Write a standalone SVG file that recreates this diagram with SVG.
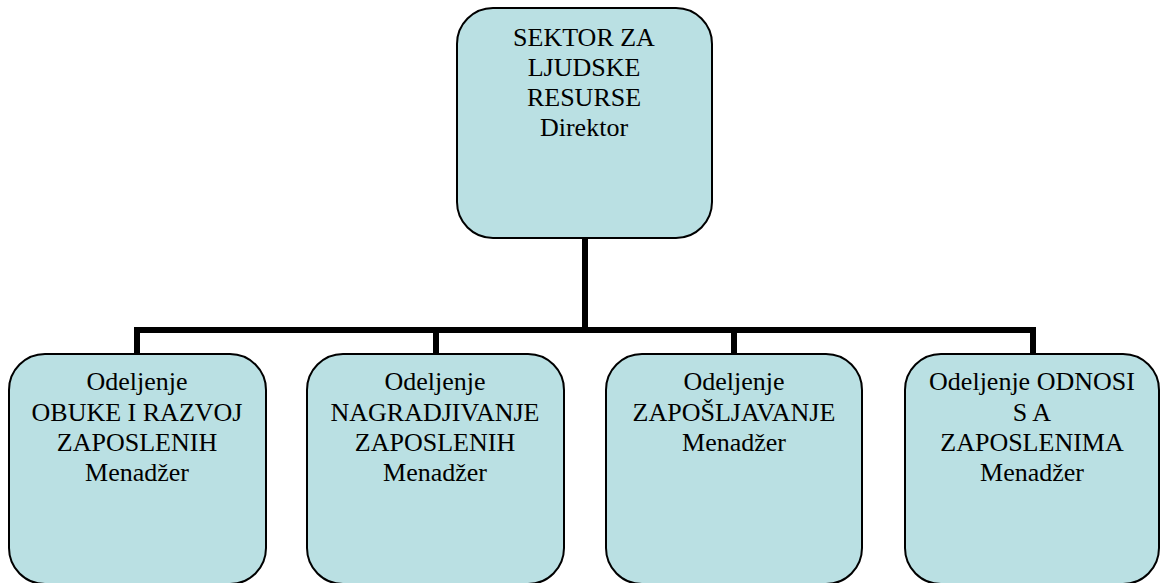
<svg xmlns="http://www.w3.org/2000/svg" width="1160" height="583" viewBox="0 0 1160 583">
<style>
.box{fill:#BAE0E3;stroke:#000;stroke-width:2}
.c{stroke:#000;stroke-width:6;fill:none}
</style>
<rect width="1160" height="583" fill="#fff"/>
<g id="connectors">
<line class="c" x1="585" y1="238" x2="585" y2="330"/>
<line class="c" x1="134" y1="330" x2="1036" y2="330"/>
<line class="c" x1="137" y1="330" x2="137" y2="353"/>
<line class="c" x1="436" y1="330" x2="436" y2="353"/>
<line class="c" x1="734" y1="330" x2="734" y2="353"/>
<line class="c" x1="1033" y1="330" x2="1033" y2="353"/>
</g>
<g id="n0">
<rect class="box" x="457" y="8" width="255" height="230" rx="36"/>
<text x="584" y="46" style="font-family:'Liberation Serif','Times New Roman',serif;font-size:26px;text-anchor:middle">SEKTOR ZA</text>
<text x="584" y="76" style="font-family:'Liberation Serif','Times New Roman',serif;font-size:26px;text-anchor:middle">LJUDSKE</text>
<text x="584" y="106" style="font-family:'Liberation Serif','Times New Roman',serif;font-size:26px;text-anchor:middle">RESURSE</text>
<text x="584" y="136" style="font-family:'Liberation Serif','Times New Roman',serif;font-size:26px;text-anchor:middle">Direktor</text>
</g>
<g id="n1">
<rect class="box" x="9" y="354" width="257" height="230" rx="36"/>
<text x="137" y="390" style="font-family:'Liberation Serif','Times New Roman',serif;font-size:26px;text-anchor:middle">Odeljenje</text>
<text x="137" y="421" style="font-family:'Liberation Serif','Times New Roman',serif;font-size:26px;text-anchor:middle">OBUKE I RAZVOJ</text>
<text x="137" y="451" style="font-family:'Liberation Serif','Times New Roman',serif;font-size:26px;text-anchor:middle">ZAPOSLENIH</text>
<text x="137" y="481" style="font-family:'Liberation Serif','Times New Roman',serif;font-size:26px;text-anchor:middle">Menadžer</text>
</g>
<g id="n2">
<rect class="box" x="307" y="354" width="257" height="230" rx="36"/>
<text x="435" y="390" style="font-family:'Liberation Serif','Times New Roman',serif;font-size:26px;text-anchor:middle">Odeljenje</text>
<text x="435" y="421" style="font-family:'Liberation Serif','Times New Roman',serif;font-size:26px;text-anchor:middle">NAGRADJIVANJE</text>
<text x="435" y="451" style="font-family:'Liberation Serif','Times New Roman',serif;font-size:26px;text-anchor:middle">ZAPOSLENIH</text>
<text x="435" y="481" style="font-family:'Liberation Serif','Times New Roman',serif;font-size:26px;text-anchor:middle">Menadžer</text>
</g>
<g id="n3">
<rect class="box" x="606" y="354" width="256" height="230" rx="36"/>
<text x="734" y="390" style="font-family:'Liberation Serif','Times New Roman',serif;font-size:26px;text-anchor:middle">Odeljenje</text>
<text x="734" y="421" style="font-family:'Liberation Serif','Times New Roman',serif;font-size:26px;text-anchor:middle">ZAPOŠLJAVANJE</text>
<text x="734" y="451" style="font-family:'Liberation Serif','Times New Roman',serif;font-size:26px;text-anchor:middle">Menadžer</text>
</g>
<g id="n4">
<rect class="box" x="905" y="354" width="254" height="230" rx="36"/>
<text x="1032" y="390" style="font-family:'Liberation Serif','Times New Roman',serif;font-size:26px;text-anchor:middle">Odeljenje ODNOSI</text>
<text x="1032" y="421" style="font-family:'Liberation Serif','Times New Roman',serif;font-size:26px;text-anchor:middle">S A</text>
<text x="1032" y="451" style="font-family:'Liberation Serif','Times New Roman',serif;font-size:26px;text-anchor:middle">ZAPOSLENIMA</text>
<text x="1032" y="481" style="font-family:'Liberation Serif','Times New Roman',serif;font-size:26px;text-anchor:middle">Menadžer</text>
</g>
</svg>
